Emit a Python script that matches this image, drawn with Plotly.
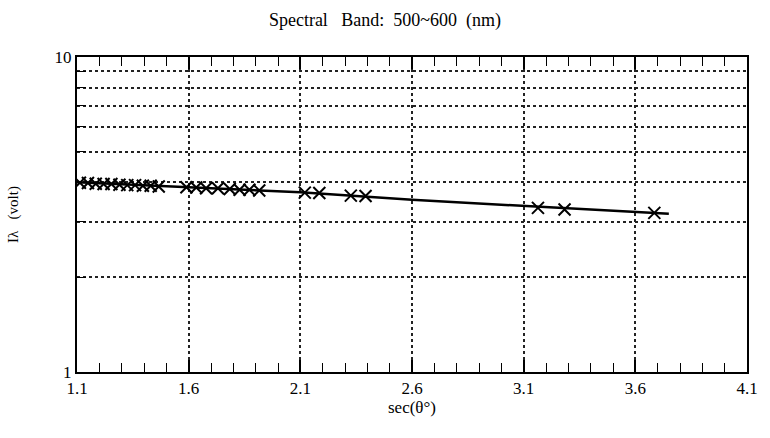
import plotly.graph_objects as go

# measured points (sec(theta), I_lambda volt)
sec_theta = [1.113, 1.149, 1.184, 1.219, 1.254, 1.29, 1.325, 1.36, 1.395, 1.43, 1.466,
             1.59, 1.634, 1.678, 1.731, 1.784, 1.828, 1.872, 1.916,
             2.12, 2.185, 2.326, 2.392, 3.164, 3.283, 3.685]
i_volt = [3.99, 3.98, 3.96, 3.95, 3.95, 3.93, 3.92, 3.92, 3.90, 3.90, 3.88,
          3.86, 3.85, 3.83, 3.83, 3.81, 3.79, 3.79, 3.77,
          3.71, 3.70, 3.63, 3.62, 3.32, 3.28, 3.20]

# fitted line
fit_x = [1.1, 2.1, 2.6, 3.1, 3.75]
fit_y = [4.0, 3.72, 3.52, 3.36, 3.18]

x_ticks = [1.1, 1.6, 2.1, 2.6, 3.1, 3.6, 4.1]
x_ticklabels = ["1.1", "1.6", "2.1", "2.6", "3.1", "3.6", "4.1"]
y_ticks = [1, 2, 3, 4, 5, 6, 7, 8, 9, 10]
y_ticklabels = ["1", "", "", "", "", "", "", "", "", "10"]

font_family = "Liberation Serif, Times New Roman, serif"

fig = go.Figure()
fig.add_trace(go.Scatter(x=fit_x, y=fit_y, mode="lines",
                         line=dict(color="black", width=2.5), showlegend=False))
fig.add_trace(go.Scatter(x=sec_theta, y=i_volt, mode="markers",
                         marker=dict(symbol="x-thin-open", size=12, color="black",
                                     line=dict(color="black", width=2)),
                         showlegend=False))

fig.update_layout(
    width=770, height=438,
    margin=dict(l=77, r=13, t=57, b=66),
    paper_bgcolor="white", plot_bgcolor="white",
    font=dict(family=font_family, color="black", size=16),
    title=dict(text="Spectral&nbsp;&nbsp;&nbsp;Band:&nbsp;&nbsp;500~600&nbsp;&nbsp;(nm)",
               x=0.5, xanchor="center", y=0.955, yanchor="middle",
               font=dict(size=18, family=font_family, color="black")),
)
fig.update_xaxes(
    range=[1.1, 4.1], tickvals=x_ticks, ticktext=x_ticklabels,
    showline=True, linecolor="black", linewidth=2, mirror="allticks",
    ticks="inside", ticklen=12, tickwidth=1.5, tickcolor="black",
    showgrid=True, gridcolor="#222", gridwidth=1.5, griddash="dot",
    minor=dict(dtick=0.1, tick0=1.1, ticks="inside", ticklen=9, tickwidth=1.3,
               tickcolor="black", showgrid=False),
    zeroline=False,
    title=dict(text="sec(θ°)", font=dict(size=17, family=font_family), standoff=4),
    tickfont=dict(size=17, family=font_family),
)
fig.update_yaxes(
    type="log", range=[0, 1], tickvals=y_ticks, ticktext=y_ticklabels,
    showline=True, linecolor="black", linewidth=2, mirror=True,
    ticks="inside", ticklen=9, tickwidth=1.3, tickcolor="black",
    showgrid=True, gridcolor="#222", gridwidth=1.5, griddash="dot",
    zeroline=False,
    title=dict(text="Iλ&nbsp;&nbsp;&nbsp;(volt)", font=dict(size=15, family=font_family), standoff=32),
    tickfont=dict(size=17, family=font_family),
)

fig.write_html("out.html")
